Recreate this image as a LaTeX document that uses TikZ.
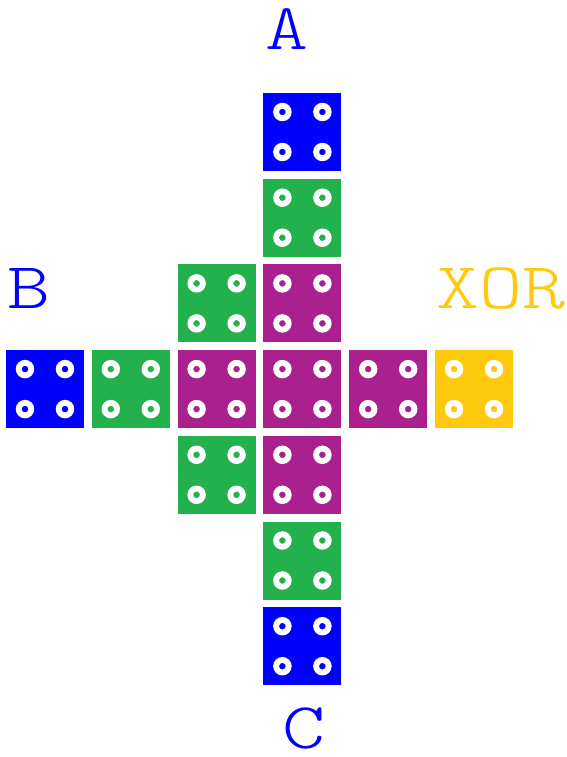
\documentclass[tikz,border=0pt]{standalone}
\usepackage{fontspec}
\setmonofont{Latin Modern Mono Light}
\usepackage{tikz}

\definecolor{tileblue}{RGB}{0,0,255}
\definecolor{tilegreen}{RGB}{34,177,76}
\definecolor{tilepurple}{RGB}{170,32,142}
\definecolor{tileyellow}{RGB}{255,201,14}

\tikzset{
  tile/.style={fill=#1, minimum size=78pt, inner sep=0pt, outer sep=0pt},
  stud/.style={white, line width=5.9pt},
  lettertext/.style={font=\fontsize{65.5}{70}\selectfont\ttfamily, inner sep=0pt, anchor=base}
}
\newcommand{\widelbl}[1]{\scalebox{1.25}[1]{#1}}

\begin{document}
\begin{tikzpicture}[x=1pt,y=-1pt]
  \useasboundingbox (0,0) rectangle (566,757);
  % tiles: column/row/colour
  \foreach \col/\row/\clr in {3/0/tileblue, 3/1/tilegreen,
      2/2/tilegreen, 3/2/tilepurple,
      0/3/tileblue, 1/3/tilegreen, 2/3/tilepurple, 3/3/tilepurple, 4/3/tilepurple, 5/3/tileyellow,
      2/4/tilegreen, 3/4/tilepurple,
      3/5/tilegreen, 3/6/tileblue} {
    \node[tile=\clr] (t\col\row) at ({45+85.8*\col},{132+85.7*\row}) {};
    \foreach \dx in {-20,20}
      \foreach \dy in {-20,20}
        \draw[stud] ([shift={(\dx,\dy)}]t\col\row.center) circle (6.25);
  }
  % labels
  \node[lettertext, text=tileblue] (labA) at (286.5,50) {\widelbl{A}};
  \node[lettertext, text=tileblue] (labB) at (28.5,308) {\widelbl{B}};
  \node[lettertext, text=tileyellow] (labXOR) at (501,308) {\widelbl{XOR}};
  \node[lettertext, text=tileblue] (labC) at (304,748) {\widelbl{C}};
\end{tikzpicture}
\end{document}
